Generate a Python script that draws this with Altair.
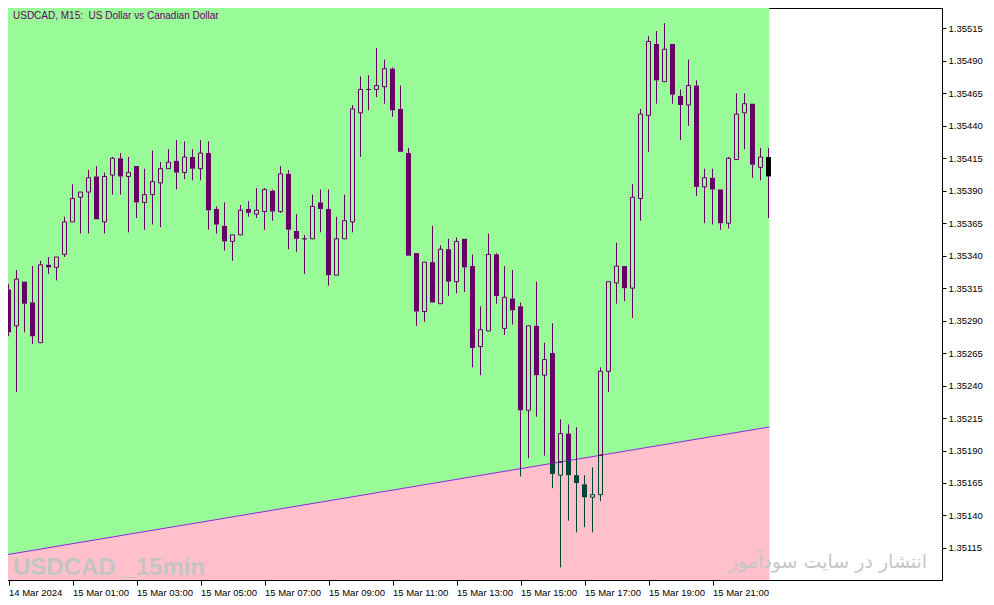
import json

import altair as alt
import pandas as pd

# USDCAD M15, bar 0 = 14 Mar 2024 23:00, prices in points (1e-5)
opens = [135314, 135286, 135320, 135304, 135273, 135333, 135331, 135341, 135366, 135385,
         135389, 135401, 135366, 135402, 135415, 135401, 135409, 135381, 135387, 135396,
         135407, 135413, 135404, 135416, 135407, 135419, 135376, 135363, 135351, 135356,
         135376, 135372, 135374, 135390, 135374, 135403, 135359, 135353, 135353, 135381,
         135376, 135325, 135353, 135366, 135450, 135468, 135468, 135470, 135484, 135453,
         135419, 135342, 135297, 135335, 135303, 135345, 135320, 135353, 135332, 135270,
         135282, 135341, 135284, 135307, 135301, 135221, 135286, 135248, 135265, 135171,
         135203, 135171, 135164, 135154, 135156, 135251, 135319, 135332, 135315, 135384,
         135448, 135503, 135474, 135503, 135463, 135456, 135471, 135393, 135400, 135391,
         135365, 135414, 135450, 135457, 135408, 135416]
highs = [135318, 135329, 135320, 135332, 135336, 135339, 135339, 135370, 135395, 135389,
         135406, 135409, 135404, 135416, 135419, 135416, 135409, 135407, 135421, 135412,
         135422, 135429, 135428, 135422, 135429, 135428, 135378, 135381, 135356, 135379,
         135382, 135392, 135392, 135391, 135409, 135406, 135372, 135356, 135387, 135391,
         135391, 135370, 135387, 135456, 135478, 135479, 135500, 135491, 135485, 135471,
         135423, 135342, 135335, 135363, 135348, 135353, 135354, 135353, 135341, 135301,
         135357, 135342, 135332, 135329, 135304, 135286, 135320, 135273, 135288, 135214,
         135210, 135208, 135171, 135177, 135254, 135320, 135350, 135332, 135395, 135453,
         135509, 135513, 135519, 135503, 135468, 135491, 135475, 135407, 135407, 135391,
         135416, 135465, 135465, 135457, 135423, 135423]
lows = [135278, 135235, 135281, 135272, 135273, 135326, 135321, 135339, 135366, 135357,
        135357, 135368, 135357, 135387, 135387, 135358, 135369, 135360, 135364, 135362,
        135407, 135391, 135399, 135398, 135398, 135360, 135357, 135344, 135336, 135356,
        135370, 135369, 135360, 135367, 135373, 135345, 135343, 135326, 135353, 135358,
        135317, 135325, 135353, 135358, 135416, 135452, 135462, 135457, 135447, 135420,
        135340, 135286, 135289, 135304, 135303, 135309, 135311, 135312, 135254, 135248,
        135282, 135303, 135279, 135287, 135170, 135184, 135216, 135186, 135161, 135100,
        135136, 135127, 135131, 135127, 135151, 135235, 135303, 135305, 135292, 135367,
        135420, 135457, 135474, 135457, 135429, 135440, 135386, 135365, 135364, 135360,
        135361, 135414, 135422, 135400, 135398, 135369]
closes = [135281, 135322, 135303, 135278, 135333, 135331, 135339, 135366, 135384, 135389,
          135400, 135368, 135401, 135415, 135401, 135404, 135381, 135387, 135397, 135407,
          135412, 135404, 135416, 135407, 135419, 135375, 135364, 135351, 135356, 135375,
          135373, 135375, 135391, 135374, 135403, 135360, 135353, 135353, 135378, 135376,
          135325, 135353, 135367, 135453, 135468, 135468, 135471, 135484, 135452, 135420,
          135340, 135297, 135335, 135304, 135345, 135320, 135351, 135331, 135269, 135283,
          135341, 135309, 135308, 135298, 135221, 135286, 135248, 135260, 135172, 135203,
          135171, 135165, 135154, 135156, 135251, 135320, 135332, 135315, 135385, 135449,
          135505, 135475, 135499, 135464, 135456, 135471, 135393, 135400, 135391, 135365,
          135415, 135449, 135457, 135410, 135416, 135401]

# trend line value at the first and the last bar
trend_start, trend_end = 135110, 135208

tick_bars = list(range(0, 89, 8))
tick_labels = ["14 Mar 2024", "15 Mar 01:00", "15 Mar 03:00", "15 Mar 05:00",
               "15 Mar 07:00", "15 Mar 09:00", "15 Mar 11:00", "15 Mar 13:00",
               "15 Mar 15:00", "15 Mar 17:00", "15 Mar 19:00", "15 Mar 21:00"]
price_ticks = [round(1.35115 + 0.00025 * k, 5) for k in range(17)]

title = "USDCAD, M15:\u00a0 US Dollar vs Canadian Dollar"
watermark = "USDCAD _15min"
site = "انتشار در سایت سودآموز"

PURPLE = "#660066"
DARK = "#00443a"
n = len(opens)
W, H = 934, 572
BAR_PX = 8  # one M15 bar = 8 px, centres on half pixels
x_min = -0.5 / BAR_PX
x_max = x_min + W / BAR_PX
y_min, y_max = 1.350903, 1.355307
green_end = n - 1 + 0.1


def trend(i):
    return trend_start + (trend_end - trend_start) * i / (n - 1)


# split every wick/body at the trend line: below it the candle is dark green
wick_rows, body_rows = [], []
for i in range(n):
    o, h, l, c = opens[i], highs[i], lows[i], closes[i]
    t = trend(i)
    top, bot = max(o, c), min(o, c)
    style = "hollow" if c >= o else "filled"
    for kind, a, b in [("wick", top, h), ("wick", l, bot), (style, bot, top)]:
        if kind == "wick" and b <= a:
            continue
        parts = []
        if a == b:
            parts.append((a, b, DARK if a < t else PURPLE))
        else:
            if a < t:
                parts.append((a, min(b, t), DARK))
            if b > t:
                parts.append((max(a, t), b, PURPLE))
        for lo, hi, col in parts:
            if kind == "filled" and i == n - 1:
                col = "#000000"
            row = {"i": i, "lo": lo / 1e5, "hi": hi / 1e5, "color": col, "kind": kind}
            (wick_rows if kind == "wick" else body_rows).append(row)

wicks = pd.DataFrame(wick_rows)
bodies = pd.DataFrame(body_rows)

trend_df = pd.DataFrame({
    "x": [x_min, green_end],
    "t": [trend(x_min) / 1e5, trend(green_end) / 1e5],
    "floor": [y_min, y_min],
})
bg_df = pd.DataFrame({"x0": [x_min], "x1": [green_end], "y0": [y_min], "y1": [y_max]})

x_scale = alt.Scale(domain=[x_min, x_max], nice=False, zero=False, padding=0)
y_scale = alt.Scale(domain=[y_min, y_max], nice=False, zero=False, padding=0)
x_axis = alt.Axis(
    values=tick_bars, title=None, grid=False,
    labelExpr=json.dumps(tick_labels) + "[round(datum.value / 8)]",
    labelAlign="left", labelPadding=2, tickSize=5, labelFlush=False,
)
y_axis = alt.Axis(
    values=price_ticks, title=None, grid=False, orient="right", format=".5f",
    tickSize=4, labelPadding=2,
)


def X(field):
    return alt.X(field, type="quantitative", scale=x_scale, axis=x_axis)


def Y(field):
    return alt.Y(field, type="quantitative", scale=y_scale, axis=y_axis)


bg = alt.Chart(bg_df).mark_rect(color="#98FB98", clip=True).encode(
    x=X("x0"), x2="x1", y=Y("y0"), y2="y1")
pink = alt.Chart(trend_df).mark_area(color="#FFC0CB", clip=True).encode(
    x=X("x"), y=Y("t"), y2="floor")
trend_line = alt.Chart(trend_df).mark_line(
    color="#8a2be2", strokeWidth=1, clip=True).encode(x=X("x"), y=Y("t"))

wick_layer = alt.Chart(wicks).mark_rule(strokeWidth=1, clip=True).encode(
    x=X("i"), y=Y("lo"), y2="hi", color=alt.Color("color:N", scale=None))
filled_layer = alt.Chart(bodies[bodies.kind == "filled"]).mark_bar(
    size=5, clip=True).encode(
    x=X("i"), y=Y("lo"), y2="hi", color=alt.Color("color:N", scale=None))
hollow_layer = alt.Chart(bodies[bodies.kind == "hollow"]).mark_bar(
    size=4, filled=False, strokeWidth=1, clip=True).encode(
    x=X("i"), y=Y("lo"), y2="hi", color=alt.Color("color:N", scale=None))

title_text = alt.Chart(pd.DataFrame({"t": [title]})).mark_text(
    align="left", baseline="alphabetic", font="Liberation Sans", fontSize=10,
    color=PURPLE).encode(x=alt.value(5), y=alt.value(11), text="t:N")
mark_text = alt.Chart(pd.DataFrame({"t": [watermark]})).mark_text(
    align="left", baseline="alphabetic", font="Liberation Sans", fontSize=24,
    fontWeight="bold", color="#c4c4c4").encode(
    x=alt.value(5), y=alt.value(567), text="t:N")
site_text = alt.Chart(pd.DataFrame({"t": [site]})).mark_text(
    align="center", baseline="middle", font="DejaVu Sans", fontSize=19,
    color="#c6c6c6").encode(x=alt.value(820), y=alt.value(554), text="t:N")

chart = alt.layer(
    bg, pink, trend_line, mark_text, site_text,
    wick_layer, filled_layer, hollow_layer, title_text,
).properties(
    width=W, height=H, background="white",
    autosize=alt.AutoSizeParams(type="none"),
    padding={"left": 0, "top": 0, "right": 44, "bottom": 16},
).configure_view(
    stroke="black", strokeWidth=1,
).configure_axis(
    labelFont="Liberation Sans", labelFontSize=9.5, labelColor="black",
    tickColor="black", domainColor="black",
)

chart.save("out.html", embed_options={"renderer": "svg", "actions": False})
